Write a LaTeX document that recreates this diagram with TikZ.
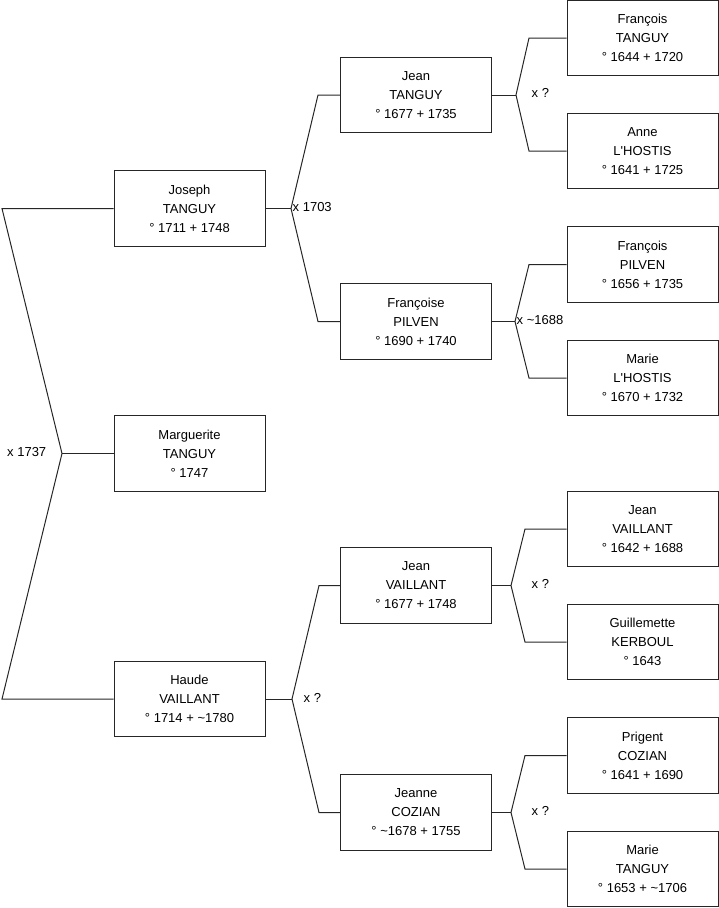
\documentclass[tikz,border=0pt]{standalone}
\usepackage{fontspec}
\setmainfont{Liberation Sans}[Ligatures=TeXOff]
\begin{document}
\begin{tikzpicture}[x=1pt,y=-1pt,
  person/.style={draw=black!85,line width=1pt,minimum width=151pt,minimum height=75.5pt,
    align=center,inner sep=0pt,font=\fontsize{13}{19}\selectfont},
  link/.style={draw=black!85,line width=1pt},
  lbl/.style={anchor=west,inner sep=0pt,font=\fontsize{13}{15}\selectfont}]
\useasboundingbox (0,0) rectangle (719,908);
% generation 1
\node[person] (joseph) at (189.5,208.5) {Joseph\\TANGUY\\° 1711 + 1748};
\node[person] (marg) at (189.5,453.5) {Marguerite\\TANGUY\\° 1747};
\node[person] (haude) at (189.5,699) {Haude\\VAILLANT\\° 1714 + \textasciitilde1780};
% generation 2
\node[person] (jeanT) at (416,95) {Jean\\TANGUY\\° 1677 + 1735};
\node[person] (francoiseP) at (416,321.5) {Françoise\\PILVEN\\° 1690 + 1740};
\node[person] (jeanV) at (416,585.5) {Jean\\VAILLANT\\° 1677 + 1748};
\node[person] (jeanneC) at (416,812.5) {Jeanne\\COZIAN\\° \textasciitilde1678 + 1755};
% generation 3
\node[person] (francoisT) at (642.5,38) {François\\TANGUY\\° 1644 + 1720};
\node[person] (anneL) at (642.5,151) {Anne\\L'HOSTIS\\° 1641 + 1725};
\node[person] (francoisP) at (642.5,264.5) {François\\PILVEN\\° 1656 + 1735};
\node[person] (marieL) at (642.5,378) {Marie\\L'HOSTIS\\° 1670 + 1732};
\node[person] (jeanV2) at (642.5,529) {Jean\\VAILLANT\\° 1642 + 1688};
\node[person] (guillK) at (642.5,642) {Guillemette\\KERBOUL\\° 1643};
\node[person] (prigentC) at (642.5,755.5) {Prigent\\COZIAN\\° 1641 + 1690};
\node[person] (marieT) at (642.5,869) {Marie\\TANGUY\\° 1653 + \textasciitilde1706};
% junction coordinates
\coordinate (r0) at (62,453.5);
\coordinate (r1) at (2,208.5);
\coordinate (r2) at (2,699);
\coordinate (j0) at (291,208.5);
\coordinate (j1) at (318,95);
\coordinate (j2) at (318,321.5);
\coordinate (h0) at (292,699);
\coordinate (h1) at (319,585.5);
\coordinate (h2) at (319,812.5);
\coordinate (a0) at (516,95);
\coordinate (a1) at (529,38);
\coordinate (a2) at (529,151);
\coordinate (b0) at (515,321.5);
\coordinate (b1) at (529,264.5);
\coordinate (b2) at (529,378);
\coordinate (c0) at (511,585.5);
\coordinate (c1) at (525,529);
\coordinate (c2) at (525,642);
\coordinate (d0) at (511,812.5);
\coordinate (d1) at (525,755.5);
\coordinate (d2) at (525,869);
% connectors
\draw[link] (joseph.west) -- (r1) -- (r0) -- (r2) -- (haude.west);
\draw[link] (r0) -- (marg.west);
\draw[link] (joseph.east) -- (j0);
\draw[link] (jeanT.west) -- (j1) -- (j0) -- (j2) -- (francoiseP.west);
\draw[link] (haude.east) -- (h0);
\draw[link] (jeanV.west) -- (h1) -- (h0) -- (h2) -- (jeanneC.west);
\draw[link] (jeanT.east) -- (a0);
\draw[link] (francoisT.west) -- (a1) -- (a0) -- (a2) -- (anneL.west);
\draw[link] (francoiseP.east) -- (b0);
\draw[link] (francoisP.west) -- (b1) -- (b0) -- (b2) -- (marieL.west);
\draw[link] (jeanV.east) -- (c0);
\draw[link] (jeanV2.west) -- (c1) -- (c0) -- (c2) -- (guillK.west);
\draw[link] (jeanneC.east) -- (d0);
\draw[link] (prigentC.west) -- (d1) -- (d0) -- (d2) -- (marieT.west);
% marriage labels
\node[lbl] (m0) at (7,452) {x 1737};
\node[lbl] (m1) at (292.5,207.5) {x 1703};
\node[lbl] (m2) at (303.5,698) {x ?};
\node[lbl] (m3) at (531.5,93) {x ?};
\node[lbl] (m4) at (516.5,320.5) {x \textasciitilde1688};
\node[lbl] (m5) at (531.5,584) {x ?};
\node[lbl] (m6) at (531.5,811) {x ?};
\end{tikzpicture}
\end{document}
